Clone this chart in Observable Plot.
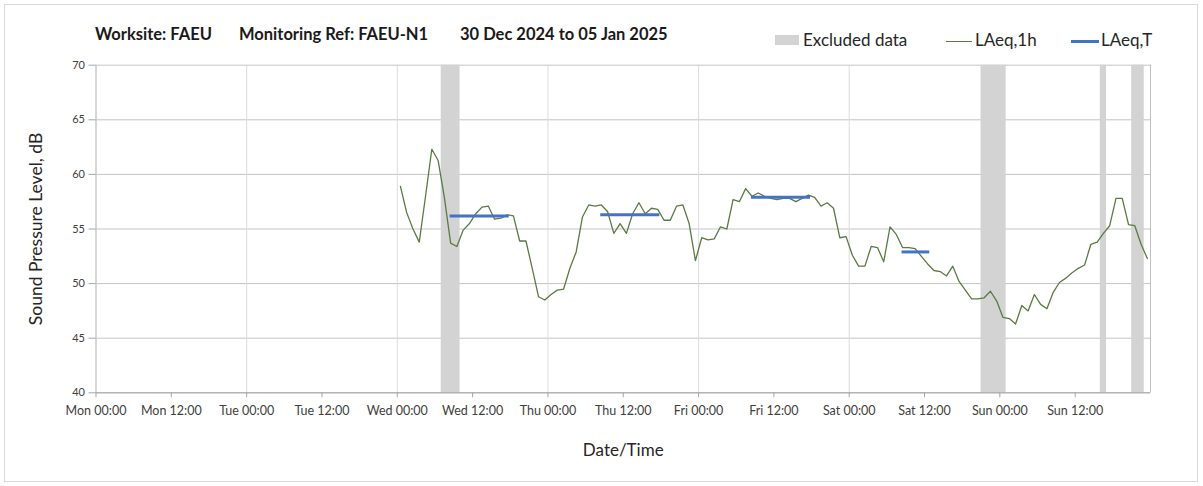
<!DOCTYPE html>
<html><head><meta charset="utf-8">
<script src="https://cdn.jsdelivr.net/npm/d3@7"></script>
<script src="https://cdn.jsdelivr.net/npm/@observablehq/plot@0.6"></script>
<style>
body{margin:0;background:#fff;}
#wrap{position:relative;width:1203px;height:486px;overflow:hidden;font-family:Lato,"Open Sans",sans-serif;}
#frame{position:absolute;left:4px;top:4px;width:1194px;height:478px;border:1px solid #d9d9d9;box-sizing:border-box;pointer-events:none;}
#chart{position:absolute;left:0;top:0;}
.t{position:absolute;white-space:pre;}
.title{font-size:16.5px;line-height:16px;font-weight:bold;color:#1a1a1a;top:26px;}
.leg{font-size:17px;line-height:17px;color:#262626;top:31px;}
.sw{position:absolute;}
</style>
</head><body>
<div id="wrap">
  <div id="chart"></div>
  <div id="frame"></div>
  <div class="t title" style="left:95px">Worksite: FAEU</div>
  <div class="t title" style="left:239px">Monitoring Ref: FAEU-N1</div>
  <div class="t title" style="left:460px">30 Dec 2024 to 05 Jan 2025</div>
  <div class="sw" style="left:775px;top:35px;width:24px;height:10px;background:#d3d3d3"></div>
  <div class="t leg" style="left:803px">Excluded data</div>
  <div class="sw" style="left:946px;top:40.5px;width:26px;height:1.3px;background:#5a7a44"></div>
  <div class="t leg" style="left:975px">LAeq,1h</div>
  <div class="sw" style="left:1071px;top:39.5px;width:28px;height:3px;background:#4472c4"></div>
  <div class="t leg" style="left:1101px">LAeq,T</div>
</div>
<script>
// ---- data ----
const seriesStart = "2025-01-01T00:30:00Z"; // first hourly LAeq,1h value (Wed 00:30)
const laeq1h = [
  58.9, 56.5, 55.0, 53.8, 58.0, 62.3, 61.3, 57.9, 53.7, 53.4, 54.9, 55.5,
  56.4, 57.0, 57.1, 55.9, 56.0, 56.3, 56.2, 53.9, 53.9, 51.4, 48.8, 48.5,
  49.0, 49.4, 49.5, 51.4, 52.9, 56.1, 57.2, 57.1, 57.2, 56.6, 54.6, 55.5,
  54.6, 56.4, 57.4, 56.4, 56.9, 56.8, 55.8, 55.8, 57.1, 57.2, 55.5, 52.1,
  54.2, 54.0, 54.1, 55.2, 55.0, 57.7, 57.5, 58.7, 58.0, 58.3, 58.0, 57.8,
  57.7, 57.8, 57.8, 57.5, 57.8, 58.1, 57.9, 57.1, 57.4, 56.9, 54.2, 54.3,
  52.6, 51.6, 51.6, 53.4, 53.3, 52.0, 55.2, 54.5, 53.3, 53.3, 53.2, 52.5,
  51.8, 51.2, 51.1, 50.7, 51.6, 50.2, 49.4, 48.6, 48.6, 48.7, 49.3, 48.4,
  46.9, 46.8, 46.3, 48.0, 47.5, 49.0, 48.1, 47.7, 49.2, 50.1, 50.5, 51.0,
  51.4, 51.7, 53.6, 53.8, 54.6, 55.3, 57.8, 57.8, 55.4, 55.3, 53.6, 52.3
];
const excludedStart = ["2025-01-01T07:00Z", "2025-01-04T21:00Z", "2025-01-05T16:00Z", "2025-01-05T21:00Z"];
const excludedEnd   = ["2025-01-01T10:00Z", "2025-01-05T01:00Z", "2025-01-05T17:00Z", "2025-01-05T23:00Z"];
const laeqTStart = ["2025-01-01T08:25Z", "2025-01-02T08:25Z", "2025-01-03T08:25Z", "2025-01-04T08:25Z"];
const laeqTEnd   = ["2025-01-01T17:50Z", "2025-01-02T17:50Z", "2025-01-03T17:50Z", "2025-01-04T12:50Z"];
const laeqT = [56.2, 56.3, 57.9, 52.9];
const yTicks = [40, 45, 50, 55, 60, 65, 70];
const xDomain = ["2024-12-30T00:00Z", "2025-01-06T00:00Z"];
const xTitle = "Date/Time";
const yTitle = "Sound Pressure Level, dB";

// ---- build tables ----
const t0 = new Date(seriesStart);
const lineData = laeq1h.map((v, i) => ({t: d3.utcHour.offset(t0, i), v}));
const exclData = excludedStart.map((s, i) => ({s: new Date(s), e: new Date(excludedEnd[i])}));
const tData = laeqT.map((v, i) => ({s: new Date(laeqTStart[i]), e: new Date(laeqTEnd[i]), v}));
const xd = xDomain.map(d => new Date(d));
const font = "Lato, 'Open Sans', sans-serif";

const chart = Plot.plot({
  width: 1203,
  height: 486,
  marginLeft: 95.5,
  marginRight: 53,
  marginTop: 64.7,
  marginBottom: 93.7,
  style: {fontFamily: font, background: "transparent"},
  x: {type: "utc", domain: xd},
  y: {domain: [40, 70]},
  marks: [
    Plot.gridY({ticks: yTicks, stroke: "#c4c4c4", strokeOpacity: 1}),
    Plot.gridX({ticks: d3.utcDays(xd[0], d3.utcDay.offset(xd[1], 1)), stroke: "#dcdcdc", strokeOpacity: 1}),
    Plot.rect(exclData, {x1: "s", x2: "e", fill: "#d3d3d3"}),
    Plot.ruleX([xd[0], xd[1]], {stroke: "#bfbfbf"}),
    Plot.ruleY([40], {stroke: "#a6a6a6"}),
    Plot.axisY({ticks: yTicks, tickSize: 7, tickPadding: 4, fontSize: 11, stroke: "#a6a6a6", fill: "#404040", label: null}),
    Plot.axisX({ticks: d3.utcHours(xd[0], xd[1], 12), tickFormat: d3.utcFormat("%a %H:%M"), tickSize: 5, tickPadding: 8, fontSize: 12.5, stroke: "#a6a6a6", fill: "#404040", label: null}),
    Plot.line(lineData, {x: "t", y: "v", stroke: "#5a7a44", strokeWidth: 1.3}),
    Plot.ruleY(tData, {y: "v", x1: "s", x2: "e", stroke: "#4472c4", strokeWidth: 3}),
    Plot.text([yTitle], {frameAnchor: "left", dx: -59.5, rotate: -90, textAnchor: "middle", fontSize: 17.5, fill: "#262626"}),
    Plot.text([xTitle], {frameAnchor: "bottom", dy: 63.5, fontSize: 17, fill: "#262626"})
  ]
});
document.getElementById("chart").appendChild(chart);
</script>
</body></html>
